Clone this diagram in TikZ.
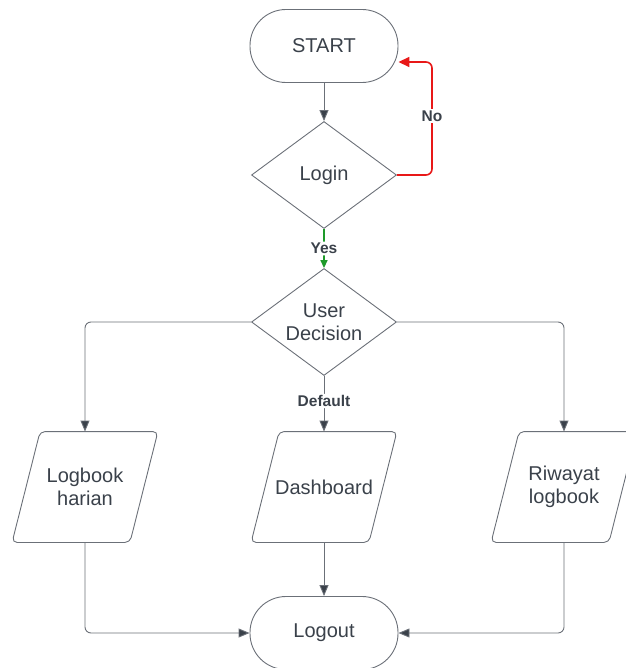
\documentclass[tikz,border=0pt]{standalone}
\usepackage{fontspec}
\setmainfont{Liberation Sans}
\usetikzlibrary{shapes.geometric,arrows.meta}
\definecolor{ln}{HTML}{6B7078}
\definecolor{tx}{HTML}{3A414A}
\definecolor{nored}{HTML}{E81818}
\definecolor{yesgreen}{HTML}{1E9A2A}
\begin{document}
\begin{tikzpicture}[x=1pt,y=-1pt,
  base/.style={draw=ln, line width=0.9pt, text=tx, font=\fontsize{20}{23}\selectfont, align=center, inner sep=0pt},
  term/.style={base, rectangle, rounded corners=36pt, minimum width=148pt, minimum height=73pt},
  dec/.style={base, diamond, aspect=1.36, minimum width=145pt, minimum height=107pt},
  io/.style={base, draw=none, rectangle, minimum width=117pt, minimum height=110pt},
  para/.style={draw=ln, line width=0.9pt, rounded corners=5pt},
  conn/.style={draw=ln, line width=0.9pt, rounded corners=6pt, -{Triangle[length=11pt,width=9pt,fill=tx]}},
  lab/.style={fill=white, text=tx, font=\fontsize{15.5}{18}\selectfont\bfseries, inner sep=1.5pt}
]
\useasboundingbox (0,0) rectangle (625,668);
\node[term] (start) at (324,46) {START};
\node[dec] (login) at (324,175) {Login};
\node[dec] (udec) at (324,322) {User\\Decision};
\node[io] (logb) at (85,487) {Logbook\\harian};
\node[io] (dash) at (324,487) {Dashboard};
\node[io] (riw) at (564,487) {Riwayat\\logbook};
\node[term] (logout) at (324,633) {Logout};
\foreach \p in {logb,dash,riw}{
  \draw[para] ([xshift=-14pt]\p.south west) -- ([xshift=-14pt]\p.south east) -- ([xshift=14pt]\p.north east) -- ([xshift=14pt]\p.north west) -- cycle;
}

\draw[conn] (start) -- (login);
\draw[conn, draw=nored, line width=1.6pt, -{Triangle[length=11pt,width=10pt,fill=nored]}] (login.east) -- (432,175) |- ([yshift=-16pt]start.east);
\node[lab] at (432,116) {No};
\draw[conn, draw=yesgreen, line width=1.6pt, -{Triangle[length=8pt,width=7pt,fill=yesgreen]}] (login.south) -- node[lab] {Yes} (udec.north);
\draw[conn] (udec.south) -- node[lab, pos=0.45] {Default} (dash.north);
\draw[conn] (udec.west) -| (logb.north);
\draw[conn] (udec.east) -| (riw.north);
\draw[conn] (dash.south) -- (logout.north);
\draw[conn] (logb.south) |- (logout.west);
\draw[conn] (riw.south) |- (logout.east);
\end{tikzpicture}
\end{document}
